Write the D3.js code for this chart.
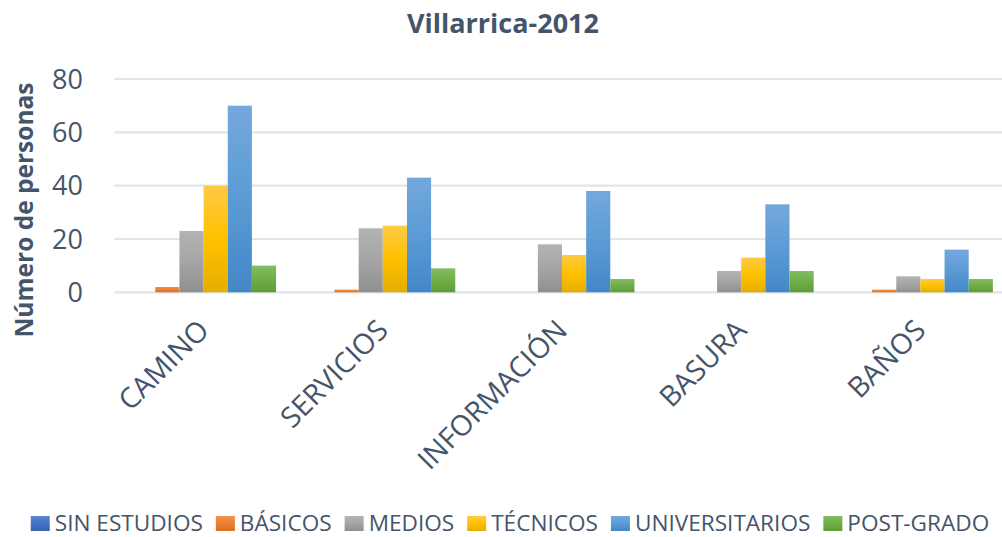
<!DOCTYPE html>
<html>
<head>
<meta charset="utf-8">
<script src="https://cdn.jsdelivr.net/npm/d3@7"></script>
<style>
    html, body { margin: 0; padding: 0; background: #ffffff; }
    .chart { width: 1002px; height: 537px; overflow: hidden; }
    text { font-family: "Open Sans", "DejaVu Sans", sans-serif; fill: #44546a; }
</style>
</head>
<body>
<div class="chart"></div>
<script>
'use strict';
var categories = ["CAMINO", "SERVICIOS", "INFORMACIÓN", "BASURA", "BAÑOS"];
var seriesNames = ["SIN ESTUDIOS", "BÁSICOS", "MEDIOS", "TÉCNICOS", "UNIVERSITARIOS", "POST-GRADO"];
var sinEstudios = [0, 0, 0, 0, 0];
var basicos = [2, 1, 0, 0, 1];
var medios = [23, 24, 18, 8, 6];
var tecnicos = [40, 25, 14, 13, 5];
var universitarios = [70, 43, 38, 33, 16];
var postGrado = [10, 9, 5, 8, 5];
var yTicks = [0, 20, 40, 60, 80];

var seriesValues = [sinEstudios, basicos, medios, tecnicos, universitarios, postGrado];
// light top, base, dark bottom (Excel gradient fill)
var seriesColors = [
    ["#5b86cf", "#4472c4", "#3963b3"],
    ["#f3924f", "#ed7d31", "#dd6c20"],
    ["#b3b3b3", "#a5a5a5", "#8f8f8f"],
    ["#ffca45", "#ffc000", "#e4ae00"],
    ["#74a8dd", "#5b9bd5", "#4387c8"],
    ["#84bb62", "#70ad47", "#5f9e36"]
];

var width = 1002, height = 537;

var svg = d3.select(".chart").append("svg")
    .attr("width", width)
    .attr("height", height);

var defs = svg.append("defs");
seriesColors.forEach(function (c, i) {
    var g = defs.append("linearGradient")
        .attr("id", "grad" + i)
        .attr("x1", 0).attr("y1", 0).attr("x2", 0).attr("y2", 1);
    g.append("stop").attr("offset", "0%").attr("stop-color", c[0]);
    g.append("stop").attr("offset", "50%").attr("stop-color", c[1]);
    g.append("stop").attr("offset", "100%").attr("stop-color", c[2]);
});

var x0 = d3.scaleBand()
    .domain(categories)
    .range([114, 1010]);
var x1 = d3.scaleBand()
    .domain(seriesNames)
    .range([0, x0.bandwidth()])
    .paddingOuter(0.71);
var y = d3.scaleLinear()
    .domain([0, 80])
    .range([292.3, 79]);

// gridlines
svg.append("g")
    .selectAll("line")
    .data(yTicks)
    .enter().append("line")
    .attr("x1", 114)
    .attr("x2", width)
    .attr("y1", function (d) { return y(d); })
    .attr("y2", function (d) { return y(d); })
    .attr("stroke", "#e1e5ea")
    .attr("stroke-width", 2.2);

// y tick labels
svg.append("g")
    .selectAll("text")
    .data(yTicks)
    .enter().append("text")
    .attr("x", 83)
    .attr("y", function (d) { return y(d); })
    .attr("dy", "0.36em")
    .attr("text-anchor", "end")
    .style("font-size", "27px")
    .text(function (d) { return d; });

// bars
var groups = svg.append("g")
    .selectAll("g")
    .data(categories)
    .enter().append("g")
    .attr("transform", function (d) { return "translate(" + x0(d) + ",0)"; });

groups.selectAll("rect")
    .data(function (d, ci) {
        return seriesNames.map(function (s, si) {
            return { series: s, index: si, value: seriesValues[si][ci] };
        });
    })
    .enter().append("rect")
    .filter(function (d) { return d.value > 0; })
    .attr("x", function (d) { return x1(d.series); })
    .attr("width", x1.bandwidth())
    .attr("y", function (d) { return y(d.value); })
    .attr("height", function (d) { return y(0) - y(d.value); })
    .attr("fill", function (d) { return "url(#grad" + d.index + ")"; });

// category labels
svg.append("g")
    .selectAll("text")
    .data(categories)
    .enter().append("text")
    .attr("text-anchor", "end")
    .attr("transform", function (d) {
        return "translate(" + (x0(d) + x0.bandwidth() / 2 + 7) + ",332) rotate(-45)";
    })
    .style("font-size", "28.5px")
    .text(function (d) { return d; });

// title
svg.append("text")
    .attr("x", 503)
    .attr("y", 33)
    .attr("text-anchor", "middle")
    .style("font-size", "27px")
    .style("font-weight", "bold")
    .text("Villarrica-2012");

// y axis title
svg.append("text")
    .attr("transform", "translate(33,210) rotate(-90)")
    .attr("text-anchor", "middle")
    .style("font-size", "24.5px")
    .style("font-weight", "bold")
    .text("Número de personas");

// legend
var legend = svg.append("g");
var lx = 0;
seriesNames.forEach(function (name, i) {
    var item = legend.append("g").attr("transform", "translate(" + lx + ",0)");
    item.append("rect")
        .attr("x", 0)
        .attr("y", 516)
        .attr("width", 19)
        .attr("height", 15)
        .attr("fill", "url(#grad" + i + ")");
    var t = item.append("text")
        .attr("x", 24)
        .attr("y", 531)
        .style("font-size", "22.6px")
        .text(name);
    lx += 24 + t.node().getComputedTextLength() + 13;
});
var legendWidth = lx - 13;
legend.attr("transform", "translate(" + (510 - legendWidth / 2) + ",0)");
</script>
</body>
</html>
